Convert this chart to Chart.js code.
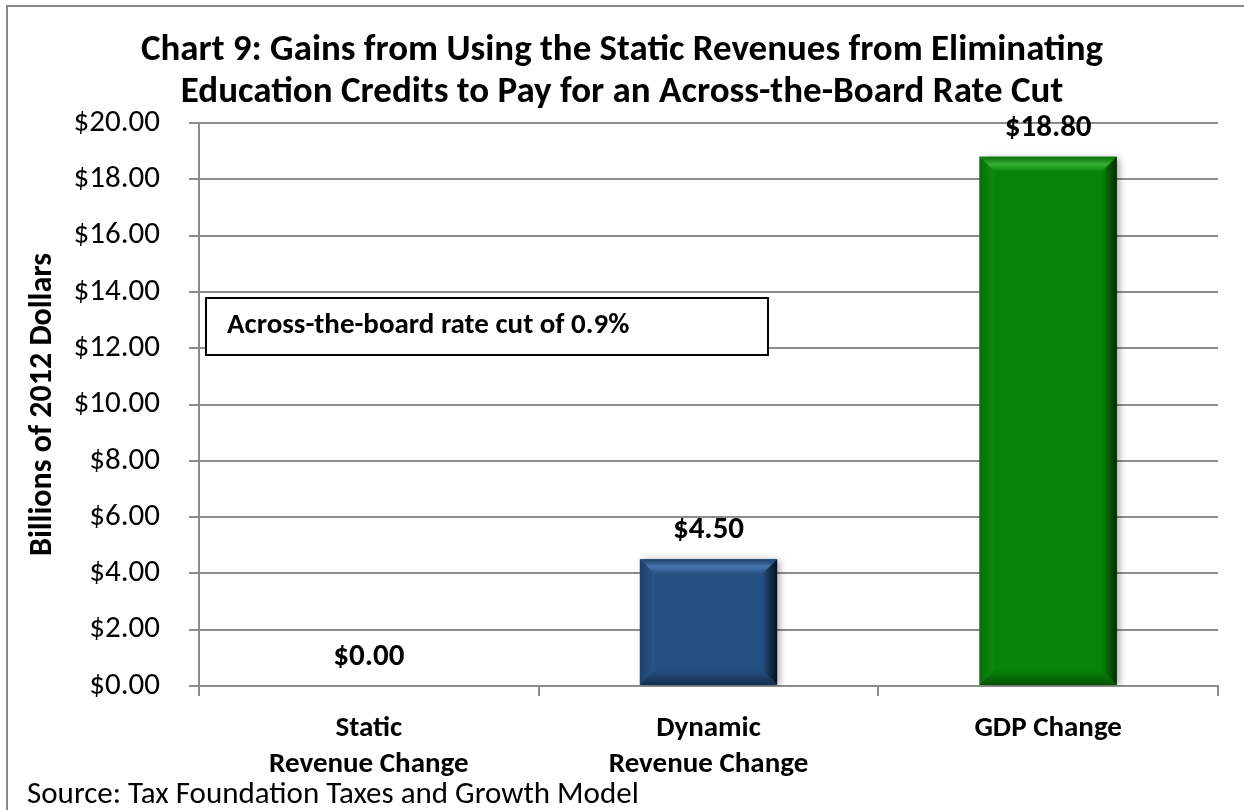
<!DOCTYPE html>
<html>
<head>
<meta charset="utf-8">
<script src="https://cdn.jsdelivr.net/npm/chart.js@4.4.1/dist/chart.umd.min.js"></script>
<style>
    html, body { margin: 0; padding: 0; background: #fff; }
    #wrap { position: relative; width: 1244px; height: 810px; }
</style>
</head>
<body>
<div id="wrap"><canvas id="chart9"></canvas></div>
<script>
var arrCategories = [['Static', 'Revenue Change'], ['Dynamic', 'Revenue Change'], 'GDP Change'];
var arrValues = [0, 4.5, 18.8];
var arrBarColors = ['#244f80', '#244f80', '#078407'];
var arrTitle = [
    'Chart 9: Gains from Using the Static Revenues from Eliminating',
    'Education Credits to Pay for an Across-the-Board Rate Cut'
];
var strNote = 'Across-the-board rate cut of 0.9%';
var strSource = 'Source: Tax Foundation Taxes and Growth Model';
var strAxisTitle = 'Billions of 2012 Dollars';
var yMin = 0, yMax = 20, yStep = 2;

var strFont = 'Carlito, Calibri, Lato, "Open Sans", sans-serif';
var strGrid = '#8c8c8c';

const money = (v) => '$' + Number(v).toFixed(2);

// bevel colours per bar: [top light, top edge, left, right dark, bottom dark]
var objBevel = {
    '#244f80': ['#4775ab', '#1d416b', '#2a5689', '#06111e', '#142f4f'],
    '#078407': ['#35b035', '#0b6e0b', '#0a8d0a', '#012d01', '#045404']
};

// frame, title, note box and source line
const decorPlugin = {
    id: 'decor',
    beforeDraw(chart) {
        const ctx = chart.ctx;
        ctx.save();
        ctx.fillStyle = '#fff';
        ctx.fillRect(0, 0, chart.width, chart.height);
        ctx.strokeStyle = '#898989';
        ctx.lineWidth = 2;
        ctx.strokeRect(7, 6, chart.width + 20, chart.height + 20);
        ctx.restore();
    },
    afterDraw(chart) {
        const ctx = chart.ctx;
        ctx.save();
        ctx.fillStyle = '#000';
        ctx.textAlign = 'center';
        ctx.textBaseline = 'middle';
        ctx.font = 'bold 37px ' + strFont;
        ctx.fillText(arrTitle[0], 622, 51, 962);
        ctx.fillText(arrTitle[1], 622, 93, 962);

        // note box
        ctx.fillStyle = '#fff';
        ctx.fillRect(206, 298, 562, 57);
        ctx.strokeStyle = '#000';
        ctx.lineWidth = 2;
        ctx.strokeRect(206, 298, 562, 57);
        ctx.fillStyle = '#000';
        ctx.textAlign = 'left';
        ctx.font = 'bold 29px ' + strFont;
        ctx.fillText(strNote, 227, 326);

        ctx.font = '31px ' + strFont;
        ctx.fillText(strSource, 27, 795);
        ctx.restore();
    }
};

// soft shadow under the bars, then bevelled edges and value labels
const barPlugin = {
    id: 'bars',
    beforeDatasetsDraw(chart) {
        const ctx = chart.ctx;
        ctx.save();
        ctx.shadowColor = 'rgba(0,0,0,0.35)';
        ctx.shadowBlur = 7;
        ctx.shadowOffsetX = 3;
        ctx.shadowOffsetY = 1;
    },
    afterDatasetsDraw(chart) {
        const ctx = chart.ctx;
        ctx.restore();
        const meta = chart.getDatasetMeta(0);
        meta.data.forEach(function (bar, i) {
            const x0 = bar.x - bar.width / 2, x1 = bar.x + bar.width / 2;
            const y0 = bar.y, y1 = bar.base;
            const h = y1 - y0;
            const b = Math.min(15, h / 2);
            const c = objBevel[arrBarColors[i]];
            if (h > 1) {
                ctx.save();
                // top
                let g = ctx.createLinearGradient(0, y0, 0, y0 + b);
                g.addColorStop(0, c[1]);
                g.addColorStop(0.5, c[0]);
                g.addColorStop(1, arrBarColors[i]);
                ctx.fillStyle = g;
                ctx.beginPath();
                ctx.moveTo(x0, y0); ctx.lineTo(x1, y0); ctx.lineTo(x1 - b, y0 + b); ctx.lineTo(x0 + b, y0 + b);
                ctx.closePath(); ctx.fill();
                // left
                g = ctx.createLinearGradient(x0, 0, x0 + b, 0);
                g.addColorStop(0, c[1]);
                g.addColorStop(1, c[2]);
                ctx.fillStyle = g;
                ctx.beginPath();
                ctx.moveTo(x0, y0); ctx.lineTo(x0 + b, y0 + b); ctx.lineTo(x0 + b, y1 - b); ctx.lineTo(x0, y1);
                ctx.closePath(); ctx.fill();
                // right
                g = ctx.createLinearGradient(x1 - b, 0, x1, 0);
                g.addColorStop(0, arrBarColors[i]);
                g.addColorStop(1, c[3]);
                ctx.fillStyle = g;
                ctx.beginPath();
                ctx.moveTo(x1, y0); ctx.lineTo(x1, y1); ctx.lineTo(x1 - b, y1 - b); ctx.lineTo(x1 - b, y0 + b);
                ctx.closePath(); ctx.fill();
                // bottom
                g = ctx.createLinearGradient(0, y1 - b, 0, y1);
                g.addColorStop(0, arrBarColors[i]);
                g.addColorStop(1, c[4]);
                ctx.fillStyle = g;
                ctx.beginPath();
                ctx.moveTo(x0, y1); ctx.lineTo(x1, y1); ctx.lineTo(x1 - b, y1 - b); ctx.lineTo(x0 + b, y1 - b);
                ctx.closePath(); ctx.fill();
                ctx.restore();
            }
            ctx.save();
            ctx.fillStyle = '#000';
            ctx.font = 'bold 31px ' + strFont;
            ctx.textAlign = 'center';
            ctx.textBaseline = 'middle';
            ctx.fillText(money(arrValues[i]), bar.x, y0 - 29);
            ctx.restore();
        });
    }
};

var ctx = document.getElementById('chart9').getContext('2d');
var objChart = new Chart(ctx, {
    type: 'bar',
    data: {
        labels: arrCategories,
        datasets: [{
            data: arrValues,
            backgroundColor: arrBarColors,
            borderWidth: 0,
            categoryPercentage: 1,
            barPercentage: 0.404
        }]
    },
    options: {
        responsive: true,
        maintainAspectRatio: false,
        animation: false,
        devicePixelRatio: 1,
        layout: {
            padding: { left: 0, right: 26, top: 123, bottom: 0 }
        },
        plugins: {
            legend: { display: false },
            tooltip: { enabled: false }
        },
        scales: {
            x: {
                afterFit: (scale) => { scale.height = 124; },
                grid: {
                    offset: true,
                    drawOnChartArea: false,
                    color: strGrid,
                    lineWidth: 2,
                    tickLength: 10
                },
                border: { color: strGrid, width: 2 },
                ticks: {
                    color: '#000',
                    padding: 15,
                    font: { family: strFont, size: 29, weight: 'bold', lineHeight: 1.24 }
                }
            },
            y: {
                min: yMin,
                max: yMax,
                afterFit: (scale) => { scale.width = 199; },
                grid: {
                    color: strGrid,
                    lineWidth: 2,
                    tickLength: 10
                },
                border: { color: strGrid, width: 2 },
                ticks: {
                    stepSize: yStep,
                    color: '#000',
                    padding: 29,
                    font: { family: strFont, size: 31 },
                    callback: (value) => money(value)
                },
                title: {
                    display: true,
                    text: strAxisTitle,
                    color: '#000',
                    padding: { top: 24, bottom: 0 },
                    font: { family: strFont, size: 32, weight: 'bold' }
                }
            }
        }
    },
    plugins: [decorPlugin, barPlugin]
});
</script>
</body>
</html>
